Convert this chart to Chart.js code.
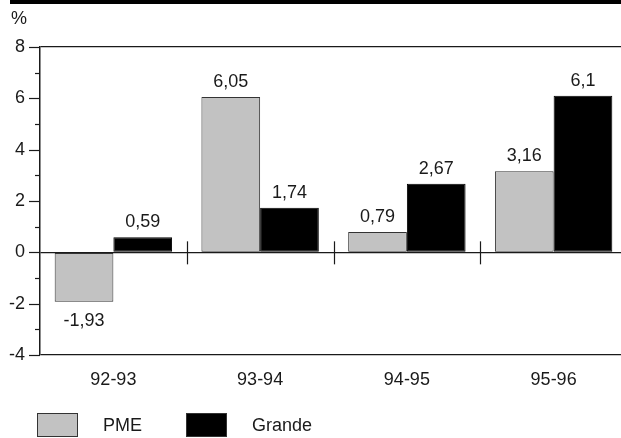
<!DOCTYPE html>
<html>
<head>
<meta charset="utf-8">
<script src="https://cdn.jsdelivr.net/npm/chart.js@4"></script>
<style>
  html, body { margin: 0; padding: 0; background: #fff; overflow: hidden; }
  #wrap { width: 627px; height: 438px; }
</style>
</head>
<body>
<div id="wrap"><canvas id="chart" width="627" height="438"></canvas></div>
<script>
const periods = ['92-93', '93-94', '94-95', '95-96'];
const pmeValues = [-1.93, 6.05, 0.79, 3.16];
const grandeValues = [0.59, 1.74, 2.67, 6.1];
const seriesNames = ['PME', 'Grande'];
const yMin = -4;
const yMax = 8;

const FONT = '"Liberation Sans", Arial, Helvetica, sans-serif';
const INK = '#1a1a1a';
const SIZE = 18;

function fmt(v) {
  return String(v).replace('.', ',');
}

const decorPlugin = {
  id: 'decor',
  afterDraw(chart) {
    const ctx = chart.ctx;
    const area = chart.chartArea;
    const y = chart.scales.y;
    const x = chart.scales.x;
    ctx.save();

    // black band at the top
    ctx.fillStyle = '#000';
    ctx.fillRect(10, 0, chart.width - 10, 4);

    // unit
    ctx.fillStyle = INK;
    ctx.font = SIZE + 'px ' + FONT;
    ctx.textAlign = 'left';
    ctx.textBaseline = 'middle';
    ctx.fillText('%', 11, 19);

    // y tick marks
    ctx.strokeStyle = INK;
    ctx.lineWidth = 1.2;
    for (let v = yMin; v <= yMax; v++) {
      const py = Math.round(y.getPixelForValue(v)) + 0.5;
      const len = v % 2 === 0 ? 11 : 5;
      ctx.beginPath();
      ctx.moveTo(area.left - len, py);
      ctx.lineTo(area.left, py);
      ctx.stroke();
    }

    // category separators on the zero line
    const zero = y.getPixelForValue(0);
    for (let i = 1; i < periods.length; i++) {
      const px = Math.round((x.getPixelForValue(i - 1) + x.getPixelForValue(i)) / 2) + 0.5;
      ctx.beginPath();
      ctx.moveTo(px, zero - 11);
      ctx.lineTo(px, zero + 12);
      ctx.stroke();
    }

    // value labels
    ctx.fillStyle = INK;
    ctx.textAlign = 'center';
    chart.data.datasets.forEach((ds, di) => {
      const meta = chart.getDatasetMeta(di);
      meta.data.forEach((bar, i) => {
        const v = ds.data[i];
        if (v >= 0) {
          ctx.textBaseline = 'bottom';
          ctx.fillText(fmt(v), bar.x, bar.y - 6);
        } else {
          ctx.textBaseline = 'top';
          ctx.fillText(fmt(v), bar.x, bar.y + 10);
        }
      });
    });

    // legend
    const legendX = [37, 186];
    const textX = [103, 252];
    chart.data.datasets.forEach((ds, di) => {
      ctx.fillStyle = ds.backgroundColor;
      ctx.fillRect(legendX[di], 413, 41, 24);
      ctx.strokeStyle = '#333';
      ctx.lineWidth = 1;
      ctx.strokeRect(legendX[di] + 0.5, 413.5, 40, 23);
      ctx.fillStyle = INK;
      ctx.textAlign = 'left';
      ctx.textBaseline = 'middle';
      ctx.fillText(ds.label, textX[di], 426);
    });

    ctx.restore();
  }
};

new Chart(document.getElementById('chart'), {
  type: 'bar',
  data: {
    labels: periods,
    datasets: [
      {
        label: seriesNames[0],
        data: pmeValues,
        backgroundColor: '#c2c2c2',
        borderColor: '#333',
        borderWidth: 1,
        borderSkipped: false
      },
      {
        label: seriesNames[1],
        data: grandeValues,
        backgroundColor: '#000',
        borderColor: '#000',
        borderWidth: 1,
        borderSkipped: false
      }
    ]
  },
  options: {
    responsive: false,
    animation: false,
    devicePixelRatio: 1,
    layout: { padding: { top: 47, left: 0, right: 0, bottom: 0 } },
    plugins: {
      legend: { display: false },
      tooltip: { enabled: false }
    },
    datasets: {
      bar: { barPercentage: 1, categoryPercentage: 0.8 }
    },
    scales: {
      x: {
        grid: { display: false, drawTicks: false },
        border: { display: false },
        ticks: {
          color: INK,
          padding: 14,
          font: { family: FONT, size: SIZE }
        },
        afterFit(scale) { scale.height = 83; }
      },
      y: {
        min: yMin,
        max: yMax,
        grid: {
          drawTicks: false,
          lineWidth: 1.2,
          color: ctx => {
            const v = ctx.tick && ctx.tick.value;
            return (v === 0 || v === yMax || v === yMin) ? INK : 'rgba(0,0,0,0)';
          }
        },
        border: { display: true, color: INK, width: 1.5 },
        ticks: {
          stepSize: 1,
          color: INK,
          padding: 15,
          font: { family: FONT, size: SIZE },
          callback: v => (v % 2 === 0 ? String(v) : '')
        },
        afterFit(scale) { scale.width = 40; }
      }
    }
  },
  plugins: [decorPlugin]
});
</script>
</body>
</html>
